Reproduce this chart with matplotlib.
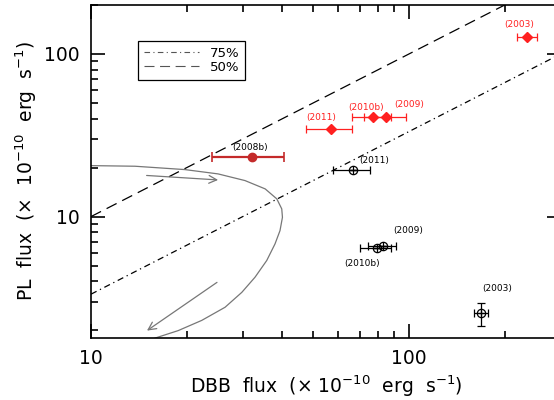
import matplotlib
matplotlib.use('Agg')
import matplotlib.pyplot as plt
import matplotlib.ticker as ticker
import numpy as np

# Red (filled) points: DBB flux, PL flux, x error range.
RED_LABELS = ['(2003)', '(2009)', '(2010b)', '(2011)']
RED_X = [235, 84.6, 76.8, 56.7]
RED_Y = [128, 40.7, 40.7, 34.6]
RED_XLO = [219, 72.3, 66.3, 47.3]
RED_XHI = [252, 98, 88, 66.3]
RED_OFFSETS = [(-8, 12), (23, 13), (-6, 10), (-9, 11)]

# 2008b point (dark red).
B08_LABEL = '(2008b)'
B08_X = [32.2]
B08_Y = [23.1]
B08_XLO = [24.1]
B08_XHI = [40.5]

# Black (open) points.
BLK_LABELS = ['(2011)', '(2009)', '(2010b)', '(2003)']
BLK_X = [66.6, 82.6, 79.4, 169]
BLK_Y = [19.4, 6.57, 6.45, 2.55]
BLK_XLO = [57.8, 74.5, 70.2, 160.4]
BLK_XHI = [75.3, 90.8, 88, 177]
BLK_YLO = [19.4, 6.57, 6.45, 2.12]
BLK_YHI = [19.4, 6.57, 6.45, 2.93]
BLK_OFFSETS = [(21, 9), (26, 16), (-15, -16), (16, 25)]

# Grey track curve (DBB, PL).
CURVE_X = [9.57, 13.75, 19.75, 25.1, 30.5, 35.3, 38.4, 39.8, 40.0, 39.3,
           37.9, 35.7, 32.8, 29.8, 26.4, 22.3, 18.8, 15.9]
CURVE_Y = [20.6, 20.4, 19.45, 18.3, 16.65, 14.8, 12.85, 11.15, 9.90, 8.20,
           6.79, 5.37, 4.24, 3.42, 2.77, 2.30, 1.99, 1.79]

# Arrows (start, end).
ARROWS = [((14.96, 17.9), (25.1, 16.8)), ((24.9, 3.94), (15.0, 1.99))]

XLIM = (10, 300)
YLIM = (1.8, 200)
MAJOR = [10, 100]
MINOR = [2, 3, 4, 5, 6, 7, 8, 9, 20, 30, 40, 50, 60, 70, 80, 90, 200]

RED = '#ff2020'
DARKRED = '#c42a2a'
GREY = '#777777'


def offset_label(ax, text, x, y, off, color):
  ax.annotate(text, (x, y), xytext=off, textcoords='offset pixels',
              ha='center', va='center', fontsize=6.5, color=color)


def main():
  fig = plt.figure(figsize=(5.54, 4.0), dpi=100)
  ax = fig.add_axes([91 / 554, 62.3 / 400, 469.7 / 554, 332.7 / 400])
  ax.set_xscale('log')
  ax.set_yscale('log')
  ax.set_xlim(*XLIM)
  ax.set_ylim(*YLIM)

  # Constant-fraction lines: PL = DBB (50%) and PL = DBB/3 (75%).
  lx = np.array(XLIM, dtype=float)
  ax.plot(lx, lx / 3.0, color='black', lw=0.9, dashes=[5, 3, 1, 3],
          label='75%')
  ax.plot(lx, lx, color='black', lw=0.9, dashes=[9, 5], label='50%')

  # Grey track with arrows.
  ax.plot(CURVE_X, CURVE_Y, color=GREY, lw=0.9)
  for (x0, y0), (x1, y1) in ARROWS:
    ax.annotate('', xy=(x1, y1), xytext=(x0, y0),
                arrowprops=dict(arrowstyle='->', color=GREY, lw=0.9,
                                mutation_scale=14, shrinkA=0, shrinkB=0))

  # Black open points.
  for i in range(len(BLK_X)):
    xe = [[BLK_X[i] - BLK_XLO[i]], [BLK_XHI[i] - BLK_X[i]]]
    ye = [[BLK_Y[i] - BLK_YLO[i]], [BLK_YHI[i] - BLK_Y[i]]]
    ax.errorbar([BLK_X[i]], [BLK_Y[i]], xerr=xe, yerr=ye, fmt='none',
                ecolor='black', elinewidth=0.9, capsize=3, capthick=0.9)
    ax.plot([BLK_X[i]], [BLK_Y[i]], 'o', mfc='none', mec='black',
            ms=6, mew=0.9)
    ax.plot([BLK_X[i]], [BLK_Y[i]], '+', color='black', ms=6, mew=0.9)
    offset_label(ax, BLK_LABELS[i], BLK_X[i], BLK_Y[i], BLK_OFFSETS[i],
                 'black')

  # 2008b.
  ax.errorbar(B08_X, B08_Y,
              xerr=[[B08_X[0] - B08_XLO[0]], [B08_XHI[0] - B08_X[0]]],
              fmt='o', color=DARKRED, ms=6, elinewidth=1.6, capsize=3.5,
              capthick=1.2)
  offset_label(ax, B08_LABEL, B08_X[0], B08_Y[0], (-2, 10), 'black')

  # Red filled points.
  for i in range(len(RED_X)):
    xe = [[RED_X[i] - RED_XLO[i]], [RED_XHI[i] - RED_X[i]]]
    ax.errorbar([RED_X[i]], [RED_Y[i]], xerr=xe, fmt='D', color=RED,
                ms=5, elinewidth=0.9, capsize=3, capthick=0.9)
    offset_label(ax, RED_LABELS[i], RED_X[i], RED_Y[i], RED_OFFSETS[i],
                 RED)

  leg = ax.legend(loc='upper left', bbox_to_anchor=(0.1, 0.893),
                  borderaxespad=0, fontsize=9.5, fancybox=False,
                  handlelength=4.2, handletextpad=0.8, labelspacing=0.1,
                  borderpad=0.45, framealpha=1)
  leg.get_frame().set_edgecolor('black')
  leg.get_frame().set_linewidth(0.9)
  for line in leg.get_lines():
    line.set_color('#555555')
    line.set_linewidth(0.8)

  for axis in (ax.xaxis, ax.yaxis):
    axis.set_major_locator(ticker.FixedLocator(MAJOR))
    axis.set_minor_locator(ticker.FixedLocator(MINOR))
    axis.set_major_formatter(ticker.FuncFormatter(lambda v, _: f'{v:.0f}'))
    axis.set_minor_formatter(ticker.NullFormatter())
  ax.tick_params(which='major', direction='in', top=True, right=True,
                 labelsize=13.5, width=1.2, length=10, pad=8)
  ax.tick_params(which='minor', direction='in', top=True, right=True,
                 width=1.2, length=5, color='black')
  for s in ax.spines.values():
    s.set_linewidth(1.2)

  ax.set_xlabel('DBB  flux  (× 10$^{-10}$  erg  s$^{-1}$)', fontsize=13.5,
                labelpad=4)
  ax.set_ylabel('PL  flux  (×  10$^{-10}$  erg  s$^{-1}$)', fontsize=13.5,
                labelpad=4)

  fig.savefig('out.png', dpi=100)
  plt.close(fig)


if __name__ == '__main__':
  main()
